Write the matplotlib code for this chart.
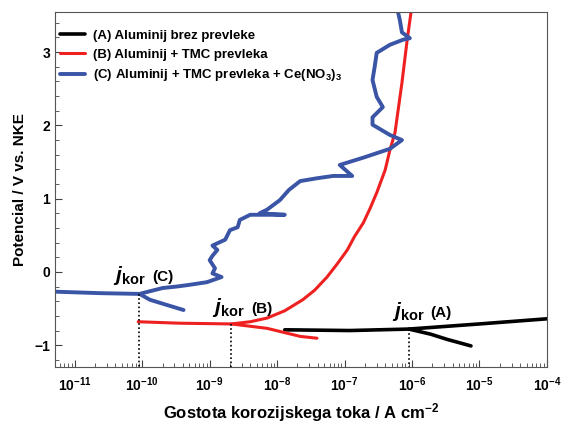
import matplotlib
matplotlib.use('Agg')
import matplotlib.pyplot as plt
from matplotlib.ticker import LogLocator, MultipleLocator, NullFormatter

plt.rcParams['font.family'] = ['Liberation Sans', 'DejaVu Sans']
plt.rcParams['font.weight'] = 'bold'
plt.rcParams['axes.labelweight'] = 'bold'
plt.rcParams['mathtext.fontset'] = 'custom'
plt.rcParams['mathtext.rm'] = 'Liberation Sans:bold'
plt.rcParams['mathtext.it'] = 'Liberation Sans:italic:bold'
plt.rcParams['mathtext.bf'] = 'Liberation Sans:bold'
plt.rcParams['mathtext.default'] = 'regular'

x_ticks = [1e-11, 1e-10, 1e-9, 1e-8, 1e-7, 1e-6, 1e-5, 1e-4]

# (A) bare aluminium
a_anod_j = [1.3e-8, 1.2e-7, 9e-7, 1.0e-5, 1e-4]
a_anod_e = [-0.79, -0.80, -0.78, -0.71, -0.64]
a_cath_j = [9e-7, 1.9e-6, 3.3e-6, 7.5e-6]
a_cath_e = [-0.78, -0.85, -0.92, -1.01]

# (B) aluminium + TMC coating
b_anod_j = [8.7e-11, 3.6e-10, 2.1e-9, 4.0e-9, 7.1e-9, 1.3e-8, 2.4e-8, 3.6e-8,
            5.5e-8, 7.8e-8, 1.1e-7, 1.4e-7, 1.9e-7, 2.4e-7, 3.0e-7, 4.0e-7,
            4.7e-7, 5.6e-7, 7.1e-7, 8.5e-7, 9.7e-7]
b_anod_e = [-0.68, -0.70, -0.71, -0.68, -0.63, -0.53, -0.38, -0.25,
            -0.07, 0.11, 0.30, 0.48, 0.67, 0.87, 1.08, 1.39,
            1.66, 1.90, 2.58, 3.17, 3.55]
b_cath_j = [2.1e-9, 7.1e-9, 2.2e-8, 3.9e-8]
b_cath_e = [-0.71, -0.77, -0.88, -0.905]

# (C) aluminium + TMC coating + Ce(NO3)3
c_anod_j = [5.2e-12, 2.4e-11, 9.1e-11, 2.0e-10, 3.2e-10, 4.7e-10, 9.1e-10, 1.5e-9,
            1.1e-9, 1.2e-9, 1.0e-9, 1.1e-9, 1.3e-9, 1.1e-9, 1.7e-9, 2.0e-9,
            2.6e-9, 2.8e-9, 4.0e-9, 1.3e-8, 5.5e-9, 7.1e-9, 1.1e-8, 1.5e-8,
            2.2e-8, 4.0e-8, 6.8e-8, 1.3e-7, 8.5e-8, 1.9e-7, 4.7e-7, 7.1e-7,
            4.7e-7, 2.6e-7, 2.6e-7, 3.7e-7, 3.0e-7, 2.6e-7, 2.8e-7, 3.0e-7,
            4.7e-7, 7.4e-7, 9.3e-7, 7.1e-7, 6.6e-7, 6.2e-7]
c_anod_e = [-0.27, -0.29, -0.30, -0.22, -0.20, -0.18, -0.14, -0.07,
            -0.02, 0.05, 0.16, 0.22, 0.30, 0.36, 0.44, 0.57,
            0.61, 0.71, 0.78, 0.78, 0.80, 0.85, 0.98, 1.12,
            1.24, 1.28, 1.31, 1.31, 1.46, 1.56, 1.68, 1.80,
            1.87, 2.01, 2.11, 2.25, 2.39, 2.62, 2.80, 2.99,
            3.10, 3.17, 3.19, 3.27, 3.44, 3.55]
c_cath_j = [9.1e-11, 1.3e-10, 2.3e-10, 4.1e-10]
c_cath_e = [-0.30, -0.38, -0.45, -0.52]

# corrosion points and their labels
kor_j = [9e-7, 2.1e-9, 9.1e-11]
kor_e = [-0.78, -0.71, -0.30]
kor_names = ['(A)', '(B)', '(C)']
kor_text_j = [5.0e-7, 1.1e-9, 3.7e-11]
kor_text_e = [-0.62, -0.56, -0.13]

blue = '#3a55a6'
red = '#ee2020'

fig = plt.figure(figsize=(5.62, 4.23), dpi=100)
ax = fig.add_axes([0.098, 0.132, 0.875, 0.84])

ax.plot(a_anod_j, a_anod_e, color='black', lw=2.6, solid_capstyle='round',
        label='(A) Aluminij brez prevleke')
ax.plot(a_cath_j, a_cath_e, color='black', lw=2.6, solid_capstyle='round')
ax.plot(b_anod_j, b_anod_e, color=red, lw=2.2, solid_capstyle='round',
        label='(B) Aluminij + TMC prevleka')
ax.plot(b_cath_j, b_cath_e, color=red, lw=2.2, solid_capstyle='round')
ax.plot(c_anod_j, c_anod_e, color=blue, lw=2.8, solid_capstyle='round',
        label='(C) Aluminij + TMC prevleka + Ce(NO$_3$)$_3$')
ax.plot(c_cath_j, c_cath_e, color=blue, lw=2.8, solid_capstyle='round')

for j, e in zip(kor_j, kor_e):
    ax.plot([j, j], [e, -1.3], color='black', lw=1.2, ls=(0, (1, 1.5)))

for tj, te, name in zip(kor_text_j, kor_text_e, kor_names):
    ax.text(tj, te, r'$\mathit{j}_{kor}$', fontsize=15)
    ax.annotate(name, (tj, te), xytext=(28, 0), textcoords='offset points',
                fontsize=11)

ax.set_xscale('log')
ax.set_xlim(5.1e-12, 1e-4)
ax.set_ylim(-1.3, 3.55)
ax.set_xticks(x_ticks)
ax.yaxis.set_major_locator(MultipleLocator(1))
ax.yaxis.set_minor_locator(MultipleLocator(0.2))
ax.xaxis.set_minor_locator(LogLocator(base=10, subs=range(2, 10), numticks=20))
ax.xaxis.set_minor_formatter(NullFormatter())
ax.tick_params(which='both', direction='in', labelsize=10, color='#444444')
ax.tick_params(which='major', length=5)
ax.tick_params(which='minor', length=3)
ax.tick_params(axis='x', pad=6)
for s in ax.spines.values():
    s.set_color('#555555')

ax.set_xlabel('Gostota korozijskega toka / A cm$^{-2}$', fontsize=12, labelpad=5)
ax.set_ylabel('Potencial / V vs. NKE', fontsize=11, labelpad=5)

ax.legend(loc='upper left', frameon=False, fontsize=9.5, handlelength=1.9,
          handletextpad=0.6, labelspacing=0.5, borderaxespad=0.0,
          bbox_to_anchor=(0.0, 0.965))

fig.savefig('out.png', dpi=100)
